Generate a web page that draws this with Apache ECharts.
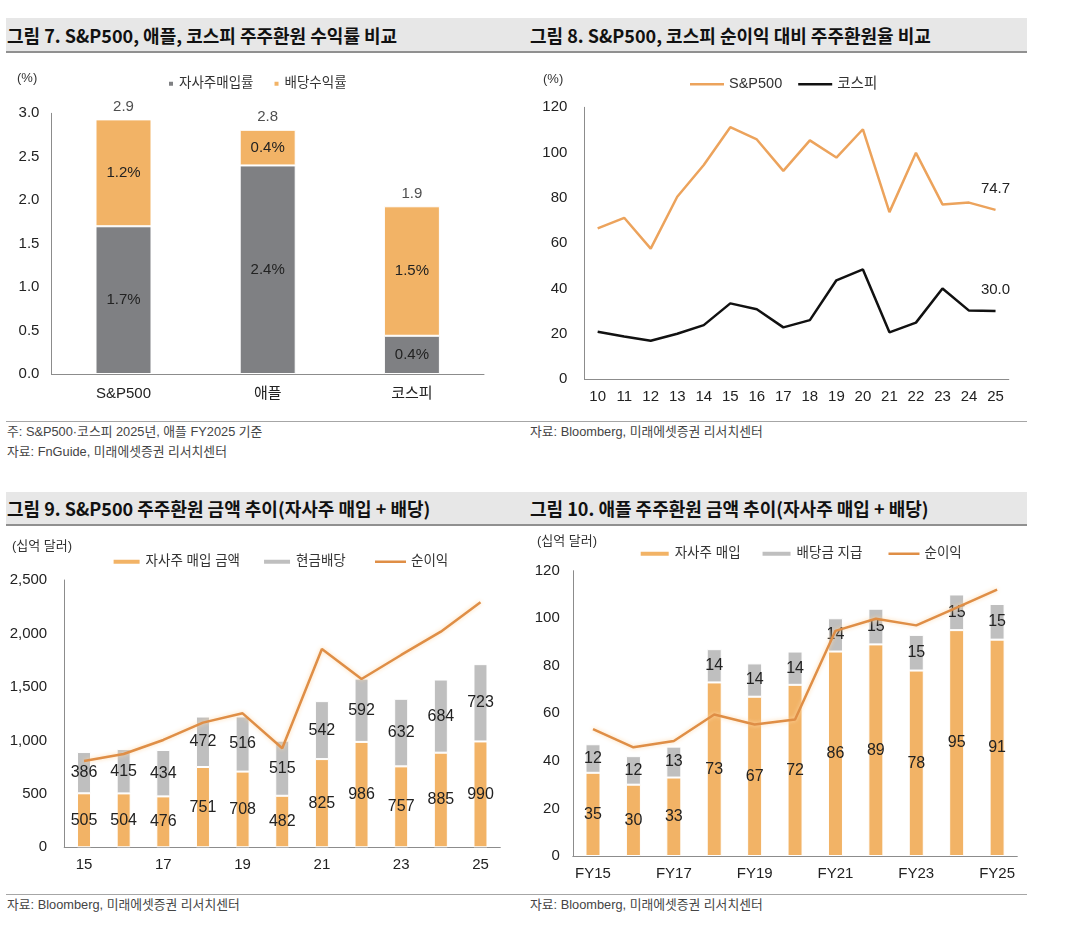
<!DOCTYPE html>
<html>
<head>
<meta charset="utf-8">
<title>주주환원 비교</title>
<script src="https://cdn.jsdelivr.net/npm/echarts@6/dist/echarts.min.js"></script>
<style>
    body { margin: 0; background: #fff; width: 1080px; height: 930px; position: relative; overflow: hidden;
           font-family: "Liberation Sans", "Noto Sans CJK KR", sans-serif; color: #333; }
    .band { position: absolute; left: 6px; width: 1021px; height: 33px; background: #e7e7e7; border-bottom: 2px solid #909090; }
    .ttl { position: absolute; font-family: "Noto Sans CJK KR", sans-serif; font-weight: bold; font-size: 18px; color: #111;
           line-height: 34px; white-space: nowrap; }
    .rule { position: absolute; left: 6px; width: 1021px; height: 1px; background: #a6a6a6; }
    .note { position: absolute; font-size: 12.8px; color: #444; white-space: nowrap; line-height: 16px; }
    .chart { position: absolute; }
</style>
</head>
<body>
<div class="band" style="top:18px"></div>
<div class="ttl" style="left:7px;top:18px">그림 7. S&amp;P500, 애플, 코스피 주주환원 수익률 비교</div>
<div class="ttl" style="left:530px;top:18px">그림 8. S&amp;P500, 코스피 순이익 대비 주주환원율 비교</div>
<div id="chart7" class="chart" style="left:0;top:55px;width:530px;height:365px"></div>
<div id="chart8" class="chart" style="left:530px;top:55px;width:550px;height:365px"></div>
<div class="rule" style="top:421px"></div>
<div class="note" style="left:7px;top:424px">주: S&amp;P500·코스피 2025년, 애플 FY2025 기준</div>
<div class="note" style="left:7px;top:444px">자료: FnGuide, 미래에셋증권 리서치센터</div>
<div class="note" style="left:530px;top:424px">자료: Bloomberg, 미래에셋증권 리서치센터</div>

<div class="band" style="top:492px;height:32px"></div>
<div class="ttl" style="left:7px;top:491px">그림 9. S&amp;P500 주주환원 금액 추이(자사주 매입 + 배당)</div>
<div class="ttl" style="left:530px;top:491px">그림 10. 애플 주주환원 금액 추이(자사주 매입 + 배당)</div>
<div id="chart9" class="chart" style="left:0;top:528px;width:530px;height:364px"></div>
<div id="chart10" class="chart" style="left:530px;top:528px;width:550px;height:364px"></div>
<div class="rule" style="top:894px"></div>
<div class="note" style="left:7px;top:897px">자료: Bloomberg, 미래에셋증권 리서치센터</div>
<div class="note" style="left:530px;top:897px">자료: Bloomberg, 미래에셋증권 리서치센터</div>

<script>
// 그림 7 데이터 (%)
var yieldCats = ['S&P500', '애플', '코스피'];
var yieldBuyback = [1.70, 2.40, 0.44];
var yieldDividend = [1.23, 0.41, 1.49];

// 그림 8 데이터 (%)
var ratioYears = ['10', '11', '12', '13', '14', '15', '16', '17', '18', '19', '20', '21', '22', '23', '24', '25'];
var ratioSp500 = [66.5, 71.2, 57.6, 80.5, 94.5, 111.2, 105.8, 91.9, 105.4, 97.8, 110.3, 73.7, 99.9, 77.1, 77.9, 74.7];
var ratioKospi = [20.9, 18.8, 16.9, 20.0, 23.8, 33.4, 30.8, 22.8, 26.0, 43.6, 48.4, 20.6, 24.9, 40.0, 30.2, 30.0];

// 그림 9 데이터 (십억 달러)
var spYears = ['15', '16', '17', '18', '19', '20', '21', '22', '23', '24', '25'];
var spBuyback = [505, 504, 476, 751, 708, 482, 825, 986, 757, 885, 990];
var spDividend = [386, 415, 434, 472, 516, 515, 542, 592, 632, 684, 723];
var spNetIncome = [807, 873, 1004, 1166, 1253, 926, 1855, 1574, 1799, 2017, 2291];

// 그림 10 데이터 (십억 달러)
var aaplYears = ['FY15', 'FY16', 'FY17', 'FY18', 'FY19', 'FY20', 'FY21', 'FY22', 'FY23', 'FY24', 'FY25'];
var aaplBuyback = [35, 30, 33, 73, 67, 72, 86, 89, 78, 95, 91];
var aaplDividend = [12, 12, 13, 14, 14, 14, 14, 15, 15, 15, 15];
var aaplNetIncome = [53.4, 45.7, 48.4, 59.5, 55.3, 57.4, 94.7, 99.8, 97.0, 104.5, 112.0];

var FONT = "'Liberation Sans', 'Noto Sans CJK KR', sans-serif";
var ORANGE = '#f2b366';
var NET_LINE = '#df8e46';
var AXIS = '#8c8c8c';

function unitText(text, left, top) {
    return {
        type: 'text', left: left, top: top,
        style: { text: text, fontSize: 13, fill: '#333', fontFamily: FONT }
    };
}

function comma(v) {
    return String(v).replace(/\B(?=(\d{3})+(?!\d))/g, ',');
}

//누적 막대 (수익률)
function yieldChart(id) {
    var myChart = echarts.init(document.getElementById(id));
    var totals = yieldBuyback.map(function (v, i) { return +(v + yieldDividend[i]).toFixed(2); });
    var option = {
        animation: false,
        textStyle: { fontFamily: FONT },
        graphic: [unitText('(%)', 17, 17)],
        legend: {
            left: 167, top: 22, padding: 0,
            itemWidth: 6, itemHeight: 6, itemGap: 19, icon: 'rect',
            textStyle: { fontSize: 13.5, color: '#333' },
            data: ['자사주매입률', '배당수익률']
        },
        grid: { left: 51.4, top: 58.3, width: 432.6, height: 260.7 },
        xAxis: {
            type: 'category',
            data: yieldCats,
            axisLine: { lineStyle: { color: AXIS } },
            axisTick: { inside: true, length: 4, lineStyle: { color: AXIS } },
            axisLabel: { fontSize: 15, color: '#222', margin: 12 }
        },
        yAxis: {
            type: 'value', min: 0, max: 3, interval: 0.5,
            axisLine: { show: true, lineStyle: { color: AXIS } },
            axisTick: { show: false },
            splitLine: { show: false },
            axisLabel: { fontSize: 15, color: '#222', margin: 12, formatter: function (v) { return v.toFixed(1); } }
        },
        series: [{
            name: '자사주매입률', type: 'bar', stack: 'y', barWidth: 56,
            itemStyle: { color: '#7f8083', borderColor: '#fff', borderWidth: 1 },
            label: { show: true, position: 'inside', fontSize: 15, color: '#222',
                     formatter: function (p) { return p.value.toFixed(1) + '%'; } },
            data: yieldBuyback
        }, {
            name: '배당수익률', type: 'bar', stack: 'y', barWidth: 56,
            itemStyle: { color: ORANGE, borderColor: '#fff', borderWidth: 1 },
            label: { show: true, position: 'inside', fontSize: 15, color: '#222',
                     formatter: function (p) { return p.value.toFixed(1) + '%'; } },
            data: yieldDividend
        }, {
            name: '합계', type: 'scatter', symbolSize: 0, silent: true,
            label: { show: true, position: 'top', distance: 5, fontSize: 15, color: '#222',
                     formatter: function (p) { return p.value.toFixed(1); } },
            data: totals
        }]
    };
    myChart.setOption(option);
}

//꺾은선 (순이익 대비 주주환원율)
function ratioChart(id) {
    var myChart = echarts.init(document.getElementById(id));
    function lastLabel(arr) {
        return {
            show: true, position: 'top', distance: 14, fontSize: 15, color: '#222',
            formatter: function (p) { return p.dataIndex === arr.length - 1 ? p.value.toFixed(1) : ''; }
        };
    }
    var option = {
        animation: false,
        textStyle: { fontFamily: FONT },
        graphic: [unitText('(%)', 13, 18)],
        legend: {
            left: 160, top: 22, padding: 0,
            itemWidth: 34, itemHeight: 2.5, itemGap: 16, icon: 'rect',
            textStyle: { fontSize: 14.5, color: '#333' },
            data: ['S&P500', '코스피']
        },
        grid: { left: 54.4, top: 52.3, width: 424.4, height: 271.7 },
        xAxis: {
            type: 'category',
            data: ratioYears,
            axisLine: { lineStyle: { color: AXIS } },
            axisTick: { inside: true, length: 4, lineStyle: { color: AXIS } },
            axisLabel: { fontSize: 15, color: '#222', margin: 10, interval: 0 }
        },
        yAxis: {
            type: 'value', min: 0, max: 120, interval: 20,
            axisLine: { show: true, lineStyle: { color: AXIS } },
            axisTick: { show: false },
            splitLine: { show: false },
            axisLabel: { fontSize: 15, color: '#222', margin: 17 }
        },
        series: [{
            name: 'S&P500', type: 'line', symbol: 'circle', symbolSize: 0,
            lineStyle: { width: 2.5, color: '#eca35c' },
            itemStyle: { color: '#eca35c' },
            label: lastLabel(ratioSp500),
            data: ratioSp500
        }, {
            name: '코스피', type: 'line', symbol: 'circle', symbolSize: 0,
            lineStyle: { width: 2.5, color: '#111' },
            itemStyle: { color: '#111' },
            label: lastLabel(ratioKospi),
            data: ratioKospi
        }]
    };
    myChart.setOption(option);
}

//누적 막대 + 순이익 선
function amountChart(id, cfg) {
    var myChart = echarts.init(document.getElementById(id));
    var barLabel = { show: true, position: 'inside', fontSize: 16, color: '#222' };
    var option = {
        animation: false,
        textStyle: { fontFamily: FONT },
        graphic: [unitText('(십억 달러)', cfg.unitLeft, cfg.unitTop)],
        legend: [{
            left: cfg.legendLeft, top: cfg.legendTop, padding: 0,
            itemWidth: cfg.iconWidth, itemHeight: 6, itemGap: cfg.legendGap, icon: 'rect',
            textStyle: { fontSize: 13.5, color: '#333' },
            data: [cfg.names[0], cfg.names[1]]
        }, {
            // 순이익은 가는 선 아이콘
            left: cfg.lineLegendLeft, top: cfg.legendTop, padding: 0,
            itemWidth: 31, itemHeight: 2.5, icon: 'rect',
            textStyle: { fontSize: 13.5, color: '#333' },
            data: [cfg.names[2]]
        }],
        grid: cfg.grid,
        xAxis: {
            type: 'category',
            data: cfg.cats,
            axisLine: { lineStyle: { color: AXIS } },
            axisTick: { inside: true, length: 4, interval: 0, lineStyle: { color: AXIS } },
            axisLabel: { fontSize: 15, color: '#222', margin: 10, interval: 1 }
        },
        yAxis: {
            type: 'value', min: 0, max: cfg.max, interval: cfg.step,
            axisLine: { show: true, lineStyle: { color: AXIS } },
            axisTick: { show: false },
            splitLine: { show: false },
            axisLabel: { fontSize: 15, color: '#222', margin: cfg.yMargin, formatter: comma }
        },
        series: [{
            name: cfg.names[0], type: 'bar', stack: 'amt', barWidth: cfg.barWidth,
            itemStyle: { color: ORANGE, borderColor: '#fff', borderWidth: 1 },
            label: barLabel,
            data: cfg.buyback
        }, {
            name: cfg.names[1], type: 'bar', stack: 'amt', barWidth: cfg.barWidth,
            itemStyle: { color: '#bfbfbf', borderColor: '#fff', borderWidth: 1 },
            label: barLabel,
            data: cfg.dividend
        }, {
            name: cfg.names[2], type: 'line', symbol: 'none', z: 5,
            lineStyle: { width: 2.5, color: NET_LINE, shadowColor: 'rgba(255,215,165,0.9)', shadowBlur: 4 },
            itemStyle: { color: NET_LINE },
            data: cfg.netIncome
        }]
    };
    myChart.setOption(option);
}

yieldChart('chart7');
ratioChart('chart8');
amountChart('chart9', {
    cats: spYears, buyback: spBuyback, dividend: spDividend, netIncome: spNetIncome,
    names: ['자사주 매입 금액', '현금배당', '순이익'],
    max: 2500, step: 500, yMargin: 17, barWidth: 14,
    grid: { left: 64.2, top: 52, width: 436.1, height: 267.3 },
    legendLeft: 111.6, legendTop: 27, legendGap: 22, iconWidth: 28, lineLegendLeft: 375,
    unitLeft: 12, unitTop: 12
});
amountChart('chart10', {
    cats: aaplYears, buyback: aaplBuyback, dividend: aaplDividend, netIncome: aaplNetIncome,
    names: ['자사주 매입', '배당금 지급', '순이익'],
    max: 120, step: 20, yMargin: 13, barWidth: 15,
    grid: { left: 42.8, top: 42.7, width: 444.5, height: 285.3 },
    legendLeft: 108.7, legendTop: 19, legendGap: 20, iconWidth: 30, lineLegendLeft: 358.5,
    unitLeft: 7, unitTop: 7
});
</script>
</body>
</html>
